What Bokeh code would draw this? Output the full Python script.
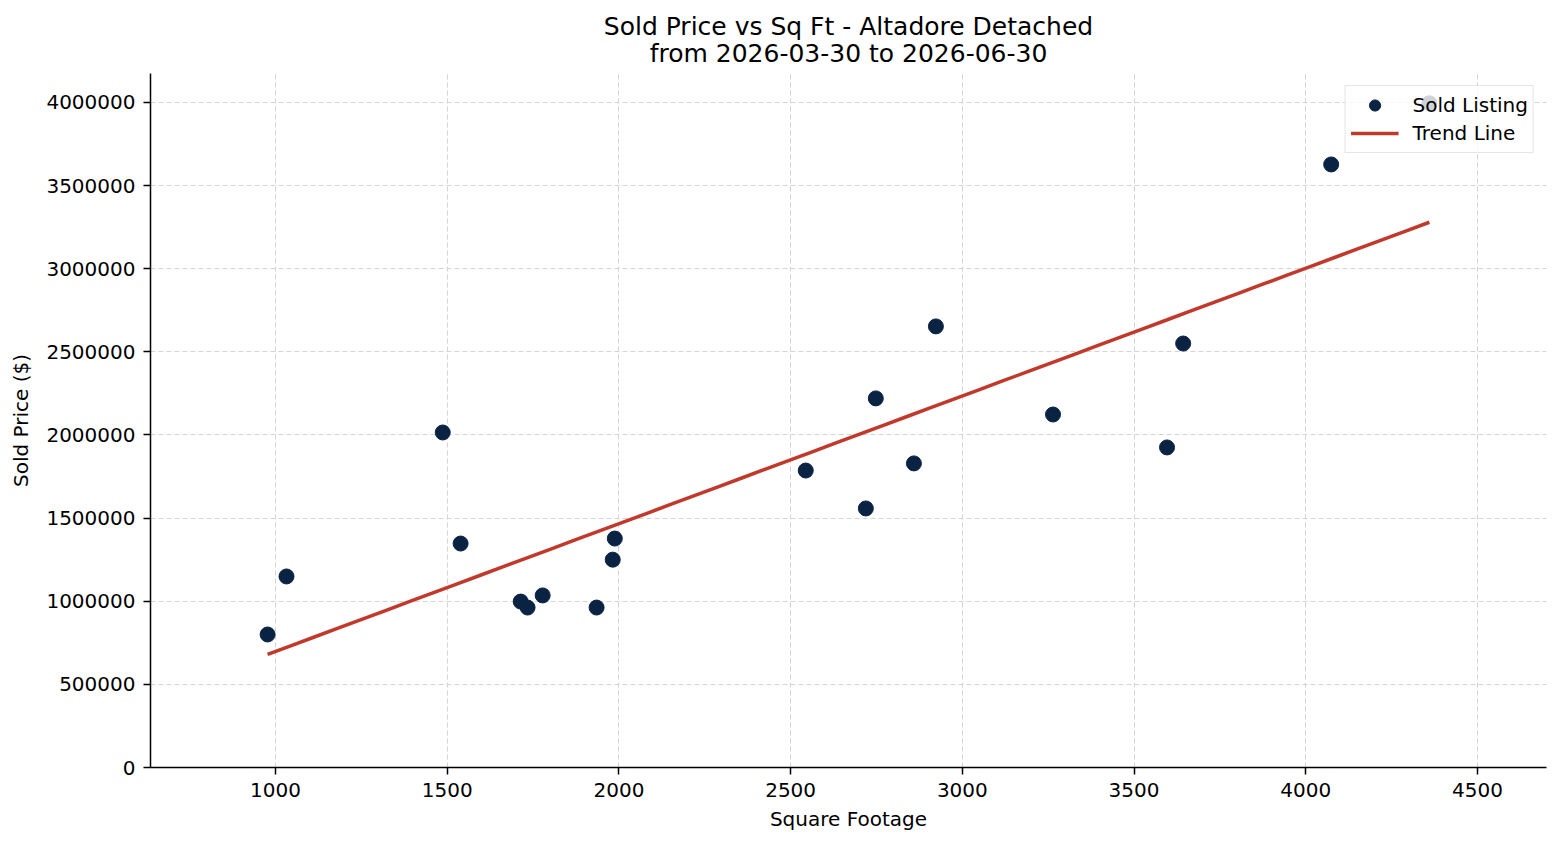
import numpy as np
from bokeh.plotting import figure
from bokeh.models import Range1d, FixedTicker, BasicTickFormatter, Legend, LegendItem, Title
from bokeh.embed import file_html
from bokeh.resources import INLINE

# Sold listings: square footage and sold price
sqft = [977, 1032, 1487, 1539, 1714, 1734, 1778, 1935, 1982, 1988,
        2544, 2719, 2748, 2859, 2923, 3264, 3596, 3643, 4074, 4360]
price = [800000, 1149000, 2015000, 1347000, 998000, 962000, 1035000, 962000, 1250000, 1377000,
         1786000, 1558000, 2220000, 1829000, 2653000, 2123000, 1925000, 2550000, 3627000, 3995000]

x_ticks = [1000, 1500, 2000, 2500, 3000, 3500, 4000, 4500]
y_ticks = [0, 500000, 1000000, 1500000, 2000000, 2500000, 3000000, 3500000, 4000000]

title_main = "Sold Price vs Sq Ft - Altadore Detached"
title_period = "from 2026-03-30 to 2026-06-30"

# Least-squares trend line across the observed range
slope, intercept = np.polyfit(sqft, price, 1)
trend_x = np.linspace(min(sqft), max(sqft), 50)
trend_y = slope * trend_x + intercept

FONT = "DejaVu Sans"

p = figure(width=1560, height=845, output_backend="svg", toolbar_location=None,
           x_range=Range1d(636, 4701), y_range=Range1d(0, 4174000),
           min_border_left=150, min_border_right=14, min_border_top=73, min_border_bottom=78)

# Two centred title lines: the main title on top, the period just above the plot
p.title.text = title_main
p.title.align = "center"
p.title.text_font = FONT
p.title.text_font_size = "25px"
p.title.text_font_style = "normal"
p.title.text_color = "#000000"
p.title.text_line_height = 1.2
p.title.standoff = -18

period_title = Title(text=title_period, align="center", text_font=FONT, text_font_size="25px",
                     text_font_style="normal", text_color="#000000", standoff=11)
p.add_layout(period_title, "above")

p.outline_line_color = None
p.background_fill_color = "white"
p.border_fill_color = "white"

for ax in (p.xaxis[0], p.yaxis[0]):
    ax.axis_line_color = "#000000"
    ax.axis_line_width = 1.5
    ax.major_tick_line_color = "#000000"
    ax.major_tick_line_width = 1.5
    ax.major_tick_out = 7
    ax.major_tick_in = 0
    ax.minor_tick_line_color = None
    ax.major_label_text_font = FONT
    ax.major_label_text_font_size = "20px"
    ax.major_label_text_color = "#000000"
    ax.axis_label_text_font = FONT
    ax.axis_label_text_font_size = "20px"
    ax.axis_label_text_font_style = "normal"
    ax.axis_label_text_color = "#000000"

p.xaxis.ticker = FixedTicker(ticks=x_ticks)
p.yaxis.ticker = FixedTicker(ticks=y_ticks)
p.yaxis.formatter = BasicTickFormatter(use_scientific=False)
p.xaxis.axis_label = "Square Footage"
p.yaxis.axis_label = "Sold Price ($)"
p.xaxis.major_label_standoff = 8
p.yaxis.major_label_standoff = 8
p.xaxis.axis_label_standoff = 7
p.yaxis.axis_label_standoff = 10

for g in (p.xgrid[0], p.ygrid[0]):
    g.grid_line_color = "#d4d4d4"
    g.grid_line_width = 1
    g.grid_line_dash = "5 3"

pts = p.scatter(sqft, price, size=15, fill_color="#0b2343", line_color="#0b2343")
trend = p.line(trend_x, trend_y, line_color="#c0392b", line_width=3.5)

legend = Legend(items=[LegendItem(label="Sold Listing", renderers=[pts]),
                       LegendItem(label="Trend Line", renderers=[trend])],
                location="top_right")
legend.label_text_font = FONT
legend.label_text_font_size = "20px"
legend.label_text_color = "#000000"
legend.border_line_color = "#cccccc"
legend.border_line_width = 1.2
legend.background_fill_color = "white"
legend.background_fill_alpha = 0.8
legend.glyph_width = 48
legend.glyph_height = 28
legend.label_height = 28
legend.label_standoff = 14
legend.padding = 5
legend.spacing = 0
legend.margin = 12
p.add_layout(legend)

open("out.html", "w").write(file_html(p, INLINE))
